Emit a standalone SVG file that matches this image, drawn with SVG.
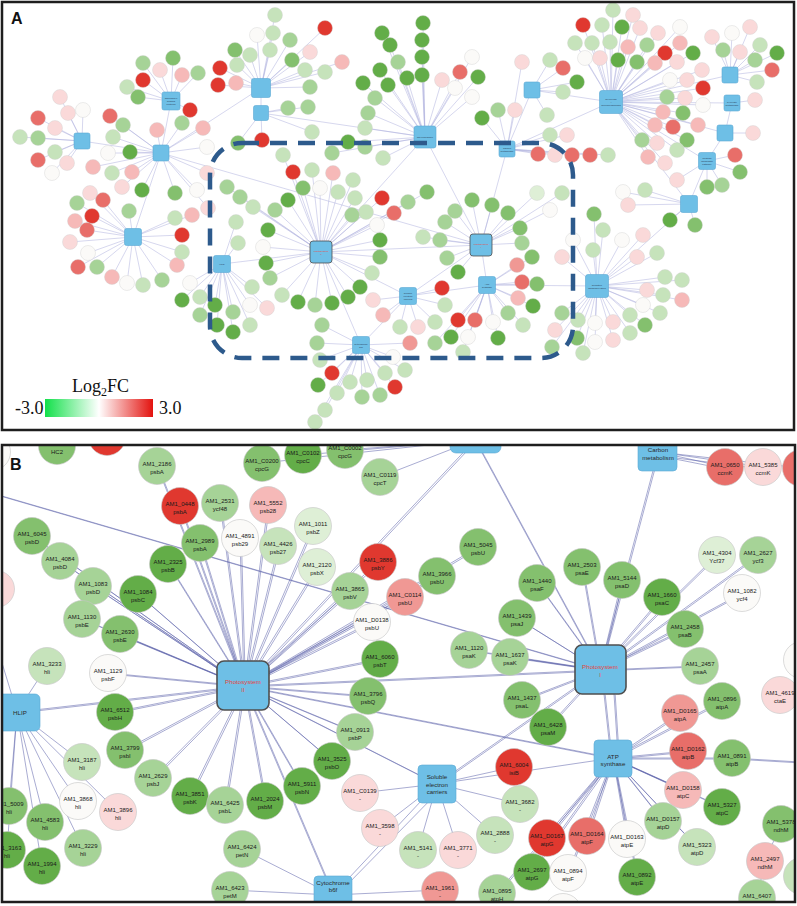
<svg xmlns="http://www.w3.org/2000/svg" xmlns:xlink="http://www.w3.org/1999/xlink" width="797" height="906" viewBox="0 0 797 906">
<style>
.fr{fill:none;stroke:#1e1e1e;stroke-width:2.5}
.ea{fill:none;stroke:#aeb0de;stroke-width:.6;stroke-opacity:.85}
.eb{fill:none;stroke:#5b5fa9;stroke-width:.7;stroke-opacity:.75}
.ac circle{stroke:#cfcfcf;stroke-width:.4}
.bn circle{stroke:#c4c4c4;stroke-width:.6}
.bn text{font-family:'Liberation Sans',Arial,sans-serif;font-size:6px;text-anchor:middle;fill:#1a1a1a}
.hb{fill:#6ebfe6;stroke:#5aa8d4;stroke-width:.6}
.hs{fill:#6ebfe6;stroke:#4f4f4f;stroke-width:1.6}
.ht{font-family:'Liberation Sans',Arial,sans-serif;font-size:6.2px;text-anchor:middle;fill:#2a2a2a}
.ta{font-family:'Liberation Sans',Arial,sans-serif;font-size:2.5px;text-anchor:middle;fill:#2a3a55}
.hr{fill:#e2443c}
.pl{font-family:'Liberation Sans',Arial,sans-serif;font-weight:bold;font-size:16px;fill:#111}
.lg{font-family:'Liberation Serif','Times New Roman',serif;font-size:18px;fill:#111}
.R{fill:#e0382f}.S{fill:#e86e69}.S2{fill:#f09894}.P{fill:#f6b9b8}.L{fill:#fad9d9}.W{fill:#fbfaf8}.Lg2{fill:#deefd6}.Lg{fill:#c6e3bb}.G{fill:#a6d397}.M{fill:#84c06e}.D{fill:#63ad48}
</style>
<defs>
<clipPath id="cA"><rect x="3" y="3" width="790" height="426"/></clipPath>
<clipPath id="cB"><rect x="3" y="446" width="791" height="455"/></clipPath>
<linearGradient id="lgr" x1="0" x2="1" y1="0" y2="0"><stop offset="0" stop-color="#12e04a"/><stop offset="0.5" stop-color="#ffffff"/><stop offset="1" stop-color="#e3120e"/></linearGradient>
</defs>
<rect width="797" height="906" fill="#fff"/>

<!-- ================= PANEL A ================= -->
<g clip-path="url(#cA)">
<g id="edgesA">
<path class="ea" d="M60 97L82 141L68 113M83 110L82 141L38 118M55 128L82 141L20 137M38 138L82 141L55 152M38 160L82 141L67 163M52 173L82 141"/>
<path class="ea" d="M143 63L171 101L160 70M173 58L171 101L182 75M198 73L171 101L143 80M127 87L171 101L138 97M190 110L171 101"/>
<path class="ea" d="M110 116L161 153L123 125M113 137L161 153L157 130M182 123L161 153L203 128M130 152L161 153L108 153M93 167L161 153L112 173M132 172L161 153L122 187M142 190L161 153L175 193M197 190L161 153L207 173M207 147L161 153L208 208"/>
<path class="ea" d="M90 193L133 237L103 200M77 203L133 237L92 216M75 221L133 237L129 211M175 218L133 237L192 215M87 230L133 237L70 242M88 253L133 237L78 267M97 267L133 237L112 277M127 283L133 237L143 285M162 280L133 237L177 265M182 252L133 237L182 235"/>
<path class="ea" d="M235 50L261 88L250 55M257 35L261 88L237 65M220 68L261 88L218 85M236 83L261 88L275 15M273 33L261 88L290 40M270 50L261 88L292 60M310 52L261 88L305 70M325 28L261 88L342 62M325 72L261 88L310 87"/>
<path class="ea" d="M262 140L261 113L238 143M308 107L261 113L288 108M312 132L261 113"/>
<path class="ea" d="M423 23L425 137L422 40M422 57L425 137L422 75M382 33L425 137L390 45M398 62L425 137L407 78M380 70L425 137L388 85M363 83L425 137L375 98M368 113L425 137L365 128M365 147L425 137L348 142M332 153L425 137L383 158M442 80L425 137L460 72M472 57L425 137L455 88M478 77L425 137L472 97"/>
<path class="ea" d="M482 118L507 149L498 110M515 110L507 149L522 62M538 154L507 149L550 135M567 135L507 149L555 155M572 155L507 149L590 155M608 155L507 149"/>
<path class="ea" d="M563 68L532 90L550 60M577 82L532 90L563 92M547 115L532 90"/>
<path class="ea" d="M613 10L611 102L633 15M602 25L611 102L583 25M622 27L611 102L640 28M658 33L611 102L680 27M575 43L611 102L592 43M610 42L611 102L628 47M647 45L611 102L665 53M680 43L611 102L693 53M585 58L611 102L600 58M618 60L611 102L637 62M655 63L611 102L677 62M702 70L611 102L670 80M687 80L611 102L703 88M667 97L611 102L685 98M703 105L611 102L663 112M683 113L611 102L698 125M655 125L611 102L673 127M687 140L611 102L642 140M657 143L611 102L677 150M648 157L611 102L665 163"/>
<path class="ea" d="M712 37L730 75L732 33M750 27L730 75L723 50M740 52L730 75L760 45M777 53L730 75L755 60M772 70L730 75L757 82M755 100L732 103M753 133L725 133"/>
<path class="ea" d="M735 155L707 161L740 172M722 185L707 161L707 187M677 180L707 161M623 192L689 204L645 190M628 205L689 204L670 220M695 225L689 204"/>
<path class="ea" d="M594 214L597 286L603 230M573 240L597 286L593 250M562 257L597 286L622 240M643 235L597 286L657 253M637 257L597 286L665 277M682 280L597 286L647 290M663 295L597 286L682 300M643 305L597 286L660 313M630 315L597 286L645 325M630 333L597 286L613 322M595 323L597 286L613 340M595 342L597 286L577 338M583 353L597 286L562 313M555 330L597 286L552 347M578 320L597 286"/>
<path class="ea" d="M283 155L321 252L293 172M312 170L321 252L333 173M353 180L321 252L303 188M320 188L321 252L338 192M355 198L321 252L288 200M275 210L321 252L382 198M366 212L321 252L408 202M427 192L321 252L394 213M377 225L321 252L380 240M380 257L321 252L372 273M360 287L321 252L348 297M332 303L321 252L315 305M298 302L321 252L282 295M268 230L321 252L266 263M263 247L321 252L270 278M352 215L321 252L227 187M240 197L321 252L253 207"/>
<path class="ea" d="M236 222L222 264L238 243M190 283L222 264L182 300M200 297L222 264L215 305M233 312L222 264L200 315M217 325L222 264L233 332M250 325L222 264L252 287M250 305L222 264L267 308"/>
<path class="ea" d="M445 222L481 245L455 211M472 200L481 245L492 205M508 213L481 245L520 228M522 243L481 245L423 237M440 240L481 245L447 258M458 272L481 245L537 193M562 193L481 245L550 210"/>
<path class="ea" d="M517 265L487 285L532 257M522 282L487 285L537 284M518 298L487 285L533 306M508 313L487 285L523 325M493 322L487 285L475 320M458 320L487 285L468 337M498 338L487 285L451 337M463 352L487 285L435 343"/>
<path class="ea" d="M373 300L408 296L383 315M400 327L408 296L418 327M435 322L408 296L445 305M442 288L408 296"/>
<path class="ea" d="M322 325L361 345L317 343M320 360L361 345L332 373M318 385L361 345L337 393M350 382L361 345L362 397M367 380L361 345L380 395M385 373L361 345L393 357M395 387L361 345L405 370M325 410L361 345L315 422M410 343L361 345"/>
<path class="ea" d="M321 252L425 137M321 252L481 245M321 252L408 296M321 252L361 345M321 252L222 264M481 245L487 285M481 245L408 296M481 245L507 149M481 245L425 137M408 296L361 345M408 296L487 285M161 153L171 101M161 153L82 141M161 153L261 88M161 153L133 237M161 153L481 245M261 88L261 113M261 113L425 137M507 149L532 90M507 149L611 102M611 102L730 75M611 102L732 103M611 102L725 133M611 102L707 161M611 102L689 204M611 102L532 90M732 103L725 133M725 133L707 161M707 161L689 204M597 286L487 285M689 204L597 286"/>
</g>

<g id="genesA" class="ac">
<g id="a-car1-genes"><circle cx="60" cy="97" r="7.5" class="L"/><circle cx="68" cy="113" r="7.5" class="L"/><circle cx="83" cy="110" r="7.5" class="W"/><circle cx="38" cy="118" r="7.5" class="S"/><circle cx="55" cy="128" r="7.5" class="L"/><circle cx="20" cy="137" r="7.5" class="Lg"/><circle cx="38" cy="138" r="7.5" class="G"/><circle cx="55" cy="152" r="7.5" class="Lg"/><circle cx="38" cy="160" r="7.5" class="S"/><circle cx="67" cy="163" r="7.5" class="L"/><circle cx="52" cy="173" r="7.5" class="W"/></g>
<g id="a-cbp-genes"><circle cx="143" cy="63" r="7.5" class="G"/><circle cx="160" cy="70" r="7.5" class="L"/><circle cx="173" cy="58" r="7.5" class="M"/><circle cx="182" cy="75" r="7.5" class="P"/><circle cx="198" cy="73" r="7.5" class="G"/><circle cx="143" cy="80" r="7.5" class="R"/><circle cx="127" cy="87" r="7.5" class="Lg"/><circle cx="138" cy="97" r="7.5" class="M"/><circle cx="190" cy="110" r="7.5" class="R"/></g>
<g id="a-chl-genes"><circle cx="110" cy="116" r="7.5" class="S"/><circle cx="123" cy="125" r="7.5" class="G"/><circle cx="113" cy="137" r="7.5" class="Lg"/><circle cx="157" cy="130" r="7.5" class="P"/><circle cx="182" cy="123" r="7.5" class="G"/><circle cx="203" cy="128" r="7.5" class="P"/><circle cx="130" cy="152" r="7.5" class="D"/><circle cx="108" cy="153" r="7.5" class="W"/><circle cx="93" cy="167" r="7.5" class="P"/><circle cx="112" cy="173" r="7.5" class="Lg"/><circle cx="132" cy="172" r="7.5" class="P"/><circle cx="122" cy="187" r="7.5" class="L"/><circle cx="142" cy="190" r="7.5" class="D"/><circle cx="175" cy="193" r="7.5" class="M"/><circle cx="197" cy="190" r="7.5" class="W"/><circle cx="207" cy="173" r="7.5" class="L"/><circle cx="207" cy="147" r="7.5" class="W"/><circle cx="208" cy="208" r="7.5" class="L"/></g>
<g id="a-car2-genes"><circle cx="90" cy="193" r="7.5" class="L"/><circle cx="103" cy="200" r="7.5" class="S"/><circle cx="77" cy="203" r="7.5" class="G"/><circle cx="92" cy="216" r="7.5" class="R"/><circle cx="75" cy="221" r="7.5" class="P"/><circle cx="129" cy="211" r="7.5" class="G"/><circle cx="175" cy="218" r="7.5" class="Lg"/><circle cx="192" cy="215" r="7.5" class="P"/><circle cx="87" cy="230" r="7.5" class="S"/><circle cx="70" cy="242" r="7.5" class="L"/><circle cx="88" cy="253" r="7.5" class="W"/><circle cx="78" cy="267" r="7.5" class="S"/><circle cx="97" cy="267" r="7.5" class="G"/><circle cx="112" cy="277" r="7.5" class="P"/><circle cx="127" cy="283" r="7.5" class="W"/><circle cx="143" cy="285" r="7.5" class="Lg"/><circle cx="162" cy="280" r="7.5" class="G"/><circle cx="177" cy="265" r="7.5" class="P"/><circle cx="182" cy="252" r="7.5" class="Lg"/><circle cx="182" cy="235" r="7.5" class="R"/></g>
<g id="a-h262-genes"><circle cx="235" cy="50" r="7.5" class="M"/><circle cx="250" cy="55" r="7.5" class="Lg"/><circle cx="257" cy="35" r="7.5" class="W"/><circle cx="237" cy="65" r="7.5" class="Lg"/><circle cx="220" cy="68" r="7.5" class="R"/><circle cx="218" cy="85" r="7.5" class="R"/><circle cx="236" cy="83" r="7.5" class="P"/><circle cx="275" cy="15" r="7.5" class="Lg"/><circle cx="273" cy="33" r="7.5" class="Lg"/><circle cx="290" cy="40" r="7.5" class="G"/><circle cx="270" cy="50" r="7.5" class="Lg"/><circle cx="292" cy="60" r="7.5" class="M"/><circle cx="310" cy="52" r="7.5" class="L"/><circle cx="305" cy="70" r="7.5" class="Lg"/><circle cx="325" cy="28" r="7.5" class="R"/><circle cx="342" cy="62" r="7.5" class="P"/><circle cx="325" cy="72" r="7.5" class="Lg"/><circle cx="310" cy="87" r="7.5" class="G"/></g>
<g id="a-h261-genes"><circle cx="262" cy="140" r="7.5" class="R"/><circle cx="238" cy="143" r="7.5" class="M"/><circle cx="308" cy="107" r="7.5" class="G"/><circle cx="288" cy="108" r="7.5" class="G"/><circle cx="312" cy="132" r="7.5" class="Lg"/></g>
<g id="a-pbs-genes"><circle cx="423" cy="23" r="7.5" class="D"/><circle cx="422" cy="40" r="7.5" class="D"/><circle cx="422" cy="57" r="7.5" class="D"/><circle cx="422" cy="75" r="7.5" class="D"/><circle cx="382" cy="33" r="7.5" class="D"/><circle cx="390" cy="45" r="7.5" class="D"/><circle cx="398" cy="62" r="7.5" class="G"/><circle cx="407" cy="78" r="7.5" class="D"/><circle cx="380" cy="70" r="7.5" class="D"/><circle cx="388" cy="85" r="7.5" class="D"/><circle cx="363" cy="83" r="7.5" class="D"/><circle cx="375" cy="98" r="7.5" class="G"/><circle cx="368" cy="113" r="7.5" class="G"/><circle cx="365" cy="128" r="7.5" class="Lg"/><circle cx="365" cy="147" r="7.5" class="G"/><circle cx="348" cy="142" r="7.5" class="D"/><circle cx="332" cy="153" r="7.5" class="G"/><circle cx="383" cy="158" r="7.5" class="Lg"/><circle cx="442" cy="80" r="7.5" class="L"/><circle cx="460" cy="72" r="7.5" class="S"/><circle cx="472" cy="57" r="7.5" class="W"/><circle cx="455" cy="88" r="7.5" class="W"/><circle cx="478" cy="77" r="7.5" class="D"/><circle cx="472" cy="97" r="7.5" class="W"/></g>
<g id="a-cm-genes"><circle cx="482" cy="118" r="7.5" class="D"/><circle cx="498" cy="110" r="7.5" class="G"/><circle cx="515" cy="110" r="7.5" class="L"/><circle cx="522" cy="62" r="7.5" class="L"/><circle cx="538" cy="154" r="7.5" class="S"/><circle cx="550" cy="135" r="7.5" class="Lg"/><circle cx="567" cy="135" r="7.5" class="L"/><circle cx="555" cy="155" r="7.5" class="L"/><circle cx="572" cy="155" r="7.5" class="S"/><circle cx="590" cy="155" r="7.5" class="S"/><circle cx="608" cy="155" r="7.5" class="Lg"/></g>
<g id="a-cfx-genes"><circle cx="563" cy="68" r="7.5" class="S"/><circle cx="550" cy="60" r="7.5" class="Lg"/><circle cx="577" cy="82" r="7.5" class="D"/><circle cx="563" cy="92" r="7.5" class="Lg"/><circle cx="547" cy="115" r="7.5" class="Lg"/></g>
<g id="a-gly-genes"><circle cx="613" cy="10" r="7.5" class="Lg"/><circle cx="633" cy="15" r="7.5" class="L"/><circle cx="602" cy="25" r="7.5" class="Lg"/><circle cx="583" cy="25" r="7.5" class="R"/><circle cx="622" cy="27" r="7.5" class="D"/><circle cx="640" cy="28" r="7.5" class="L"/><circle cx="658" cy="33" r="7.5" class="L"/><circle cx="680" cy="27" r="7.5" class="W"/><circle cx="575" cy="43" r="7.5" class="Lg"/><circle cx="592" cy="43" r="7.5" class="Lg"/><circle cx="610" cy="42" r="7.5" class="Lg"/><circle cx="628" cy="47" r="7.5" class="P"/><circle cx="647" cy="45" r="7.5" class="G"/><circle cx="665" cy="53" r="7.5" class="R"/><circle cx="680" cy="43" r="7.5" class="P"/><circle cx="693" cy="53" r="7.5" class="D"/><circle cx="585" cy="58" r="7.5" class="W"/><circle cx="600" cy="58" r="7.5" class="L"/><circle cx="618" cy="60" r="7.5" class="D"/><circle cx="637" cy="62" r="7.5" class="M"/><circle cx="655" cy="63" r="7.5" class="P"/><circle cx="677" cy="62" r="7.5" class="L"/><circle cx="702" cy="70" r="7.5" class="L"/><circle cx="670" cy="80" r="7.5" class="W"/><circle cx="687" cy="80" r="7.5" class="L"/><circle cx="703" cy="88" r="7.5" class="R"/><circle cx="667" cy="97" r="7.5" class="G"/><circle cx="685" cy="98" r="7.5" class="L"/><circle cx="703" cy="105" r="7.5" class="W"/><circle cx="663" cy="112" r="7.5" class="P"/><circle cx="683" cy="113" r="7.5" class="M"/><circle cx="698" cy="125" r="7.5" class="P"/><circle cx="655" cy="125" r="7.5" class="P"/><circle cx="673" cy="127" r="7.5" class="S"/><circle cx="687" cy="140" r="7.5" class="M"/><circle cx="642" cy="140" r="7.5" class="G"/><circle cx="657" cy="143" r="7.5" class="L"/><circle cx="677" cy="150" r="7.5" class="Lg"/><circle cx="648" cy="157" r="7.5" class="P"/><circle cx="665" cy="163" r="7.5" class="L"/></g>
<g id="a-glx-genes"><circle cx="712" cy="37" r="7.5" class="L"/><circle cx="732" cy="33" r="7.5" class="W"/><circle cx="750" cy="27" r="7.5" class="L"/><circle cx="723" cy="50" r="7.5" class="G"/><circle cx="740" cy="52" r="7.5" class="L"/><circle cx="760" cy="45" r="7.5" class="Lg"/><circle cx="777" cy="53" r="7.5" class="D"/><circle cx="755" cy="60" r="7.5" class="G"/><circle cx="772" cy="70" r="7.5" class="S"/><circle cx="757" cy="82" r="7.5" class="Lg"/><circle cx="755" cy="100" r="7.5" class="L"/><circle cx="753" cy="133" r="7.5" class="L"/></g>
<g id="a-ppp-genes"><circle cx="735" cy="155" r="7.5" class="S"/><circle cx="740" cy="172" r="7.5" class="M"/><circle cx="722" cy="185" r="7.5" class="G"/><circle cx="707" cy="187" r="7.5" class="M"/><circle cx="677" cy="180" r="7.5" class="L"/><circle cx="623" cy="192" r="7.5" class="W"/><circle cx="645" cy="190" r="7.5" class="Lg"/><circle cx="628" cy="205" r="7.5" class="L"/><circle cx="670" cy="220" r="7.5" class="D"/><circle cx="695" cy="225" r="7.5" class="M"/></g>
<g id="a-oxp-genes"><circle cx="594" cy="214" r="7.5" class="M"/><circle cx="603" cy="230" r="7.5" class="Lg"/><circle cx="573" cy="240" r="7.5" class="W"/><circle cx="593" cy="250" r="7.5" class="Lg"/><circle cx="562" cy="257" r="7.5" class="L"/><circle cx="622" cy="240" r="7.5" class="W"/><circle cx="643" cy="235" r="7.5" class="L"/><circle cx="657" cy="253" r="7.5" class="Lg"/><circle cx="637" cy="257" r="7.5" class="L"/><circle cx="665" cy="277" r="7.5" class="Lg"/><circle cx="682" cy="280" r="7.5" class="Lg"/><circle cx="647" cy="290" r="7.5" class="L"/><circle cx="663" cy="295" r="7.5" class="Lg"/><circle cx="682" cy="300" r="7.5" class="P"/><circle cx="643" cy="305" r="7.5" class="W"/><circle cx="660" cy="313" r="7.5" class="Lg"/><circle cx="630" cy="315" r="7.5" class="Lg"/><circle cx="645" cy="325" r="7.5" class="M"/><circle cx="630" cy="333" r="7.5" class="Lg"/><circle cx="613" cy="322" r="7.5" class="L"/><circle cx="595" cy="323" r="7.5" class="W"/><circle cx="613" cy="340" r="7.5" class="L"/><circle cx="595" cy="342" r="7.5" class="W"/><circle cx="577" cy="338" r="7.5" class="M"/><circle cx="583" cy="353" r="7.5" class="Lg"/><circle cx="562" cy="313" r="7.5" class="G"/><circle cx="555" cy="330" r="7.5" class="L"/><circle cx="552" cy="347" r="7.5" class="G"/><circle cx="578" cy="320" r="7.5" class="Lg"/></g>
<g id="a-ps2-genes"><circle cx="283" cy="155" r="7.5" class="Lg"/><circle cx="293" cy="172" r="7.5" class="R"/><circle cx="312" cy="170" r="7.5" class="Lg"/><circle cx="333" cy="173" r="7.5" class="P"/><circle cx="353" cy="180" r="7.5" class="Lg"/><circle cx="303" cy="188" r="7.5" class="M"/><circle cx="320" cy="188" r="7.5" class="W"/><circle cx="338" cy="192" r="7.5" class="Lg"/><circle cx="355" cy="198" r="7.5" class="Lg"/><circle cx="288" cy="200" r="7.5" class="D"/><circle cx="275" cy="210" r="7.5" class="G"/><circle cx="382" cy="198" r="7.5" class="R"/><circle cx="366" cy="212" r="7.5" class="Lg"/><circle cx="408" cy="202" r="7.5" class="G"/><circle cx="427" cy="192" r="7.5" class="M"/><circle cx="394" cy="213" r="7.5" class="S"/><circle cx="377" cy="225" r="7.5" class="W"/><circle cx="380" cy="240" r="7.5" class="D"/><circle cx="380" cy="257" r="7.5" class="M"/><circle cx="372" cy="273" r="7.5" class="Lg"/><circle cx="360" cy="287" r="7.5" class="D"/><circle cx="348" cy="297" r="7.5" class="D"/><circle cx="332" cy="303" r="7.5" class="D"/><circle cx="315" cy="305" r="7.5" class="G"/><circle cx="298" cy="302" r="7.5" class="D"/><circle cx="282" cy="295" r="7.5" class="Lg"/><circle cx="268" cy="230" r="7.5" class="D"/><circle cx="266" cy="263" r="7.5" class="D"/><circle cx="263" cy="247" r="7.5" class="W"/><circle cx="270" cy="278" r="7.5" class="G"/><circle cx="352" cy="215" r="7.5" class="G"/><circle cx="227" cy="187" r="7.5" class="G"/><circle cx="240" cy="197" r="7.5" class="G"/><circle cx="253" cy="207" r="7.5" class="Lg"/></g>
<g id="a-hlip-genes"><circle cx="236" cy="222" r="7.5" class="Lg"/><circle cx="238" cy="243" r="7.5" class="Lg"/><circle cx="190" cy="283" r="7.5" class="W"/><circle cx="182" cy="300" r="7.5" class="D"/><circle cx="200" cy="297" r="7.5" class="Lg"/><circle cx="215" cy="305" r="7.5" class="D"/><circle cx="233" cy="312" r="7.5" class="G"/><circle cx="200" cy="315" r="7.5" class="G"/><circle cx="217" cy="325" r="7.5" class="D"/><circle cx="233" cy="332" r="7.5" class="D"/><circle cx="250" cy="325" r="7.5" class="Lg"/><circle cx="252" cy="287" r="7.5" class="Lg"/><circle cx="250" cy="305" r="7.5" class="W"/><circle cx="267" cy="308" r="7.5" class="L"/></g>
<g id="a-ps1-genes"><circle cx="445" cy="222" r="7.5" class="G"/><circle cx="455" cy="211" r="7.5" class="G"/><circle cx="472" cy="200" r="7.5" class="M"/><circle cx="492" cy="205" r="7.5" class="M"/><circle cx="508" cy="213" r="7.5" class="M"/><circle cx="520" cy="228" r="7.5" class="M"/><circle cx="522" cy="243" r="7.5" class="G"/><circle cx="423" cy="237" r="7.5" class="Lg"/><circle cx="440" cy="240" r="7.5" class="G"/><circle cx="447" cy="258" r="7.5" class="G"/><circle cx="458" cy="272" r="7.5" class="D"/><circle cx="537" cy="193" r="7.5" class="Lg2"/><circle cx="562" cy="193" r="7.5" class="Lg"/><circle cx="550" cy="210" r="7.5" class="W"/></g>
<g id="a-atp-genes"><circle cx="517" cy="265" r="7.5" class="S2"/><circle cx="532" cy="257" r="7.5" class="M"/><circle cx="522" cy="282" r="7.5" class="S"/><circle cx="537" cy="284" r="7.5" class="M"/><circle cx="518" cy="298" r="7.5" class="P"/><circle cx="533" cy="306" r="7.5" class="D"/><circle cx="508" cy="313" r="7.5" class="G"/><circle cx="523" cy="325" r="7.5" class="Lg"/><circle cx="493" cy="322" r="7.5" class="W"/><circle cx="475" cy="320" r="7.5" class="S"/><circle cx="458" cy="320" r="7.5" class="R"/><circle cx="468" cy="337" r="7.5" class="W"/><circle cx="498" cy="338" r="7.5" class="D"/><circle cx="451" cy="337" r="7.5" class="D"/><circle cx="463" cy="352" r="7.5" class="Lg"/><circle cx="435" cy="343" r="7.5" class="G"/></g>
<g id="a-sec-genes"><circle cx="373" cy="300" r="7.5" class="L"/><circle cx="383" cy="315" r="7.5" class="P"/><circle cx="400" cy="327" r="7.5" class="Lg"/><circle cx="418" cy="327" r="7.5" class="L"/><circle cx="435" cy="322" r="7.5" class="Lg"/><circle cx="445" cy="305" r="7.5" class="Lg"/><circle cx="442" cy="288" r="7.5" class="R"/></g>
<g id="a-cyt-genes"><circle cx="322" cy="325" r="7.5" class="G"/><circle cx="317" cy="343" r="7.5" class="G"/><circle cx="320" cy="360" r="7.5" class="Lg"/><circle cx="332" cy="373" r="7.5" class="R"/><circle cx="318" cy="385" r="7.5" class="D"/><circle cx="337" cy="393" r="7.5" class="Lg"/><circle cx="350" cy="382" r="7.5" class="Lg"/><circle cx="362" cy="397" r="7.5" class="G"/><circle cx="367" cy="380" r="7.5" class="Lg"/><circle cx="380" cy="395" r="7.5" class="G"/><circle cx="385" cy="373" r="7.5" class="Lg"/><circle cx="393" cy="357" r="7.5" class="W"/><circle cx="395" cy="387" r="7.5" class="R"/><circle cx="405" cy="370" r="7.5" class="Lg"/><circle cx="325" cy="410" r="7.5" class="Lg"/><circle cx="315" cy="422" r="7.5" class="Lg"/><circle cx="410" cy="343" r="7.5" class="S2"/></g>
</g>

<g id="hubsA">
<g id="hA-car1"><rect x="74" y="133" width="16" height="16" rx="2" class="hb"/></g>
<g id="hA-cbp"><rect x="162" y="92" width="18" height="18" rx="2" class="hb"/><text class="ta" x="171" y="99">Chlorophyll<tspan x="171" dy="3">binding</tspan><tspan x="171" dy="3">proteins</tspan></text></g>
<g id="hA-chl"><rect x="153" y="145" width="16" height="16" rx="2" class="hb"/></g>
<g id="hA-car2"><rect x="124.5" y="228.5" width="17" height="17" rx="2" class="hb"/></g>
<g id="hA-h262"><rect x="251.5" y="78.5" width="19" height="19" rx="2" class="hb"/></g>
<g id="hA-h261"><rect x="253.5" y="105.5" width="15" height="15" rx="2" class="hb"/></g>
<g id="hA-pbs"><rect x="414" y="126" width="22" height="22" rx="2.5" class="hb"/><text class="ta" x="425" y="138">Phycobilisome</text></g>
<g id="hA-cm"><rect x="499" y="141" width="16" height="16" rx="2" class="hb"/><text class="ta" x="507" y="148.5">Carbon<tspan x="507" dy="3">metabolism</tspan></text></g>
<g id="hA-cfx"><rect x="524" y="82" width="16" height="16" rx="2" class="hb"/></g>
<g id="hA-gly"><rect x="599.5" y="90.5" width="23" height="23" rx="2.5" class="hb"/><text class="ta" x="611" y="100">Glycolysis<tspan x="611" dy="3">/</tspan><tspan x="611" dy="3">Gluconeogenesis</tspan></text></g>
<g id="hA-glx"><rect x="722" y="67" width="16" height="16" rx="2" class="hb"/></g>
<g id="hA-pyr"><rect x="724" y="95" width="16" height="16" rx="2" class="hb"/><text class="ta" x="732" y="102.5">Pyruvate<tspan x="732" dy="3">metabolism</tspan></text></g>
<g id="hA-tca"><rect x="717" y="125" width="16" height="16" rx="2" class="hb"/></g>
<g id="hA-ppp"><rect x="698.5" y="152.5" width="17" height="17" rx="2" class="hb"/><text class="ta" x="707" y="159">Pentose<tspan x="707" dy="3">phosphate</tspan><tspan x="707" dy="3">pathway</tspan></text></g>
<g id="hA-frc"><rect x="680.5" y="195.5" width="17" height="17" rx="2" class="hb"/></g>
<g id="hA-ps2"><rect x="310" y="241" width="22" height="22" rx="3" class="hs" style="stroke-width:.8"/><text class="ta hr" x="321" y="251.5">Photosystem<tspan x="321" dy="3">II</tspan></text></g>
<g id="hA-ps1"><rect x="470" y="234" width="22" height="22" rx="3" class="hs" style="stroke-width:.8"/><text class="ta hr" x="481" y="244.5">Photosystem<tspan x="481" dy="3">I</tspan></text></g>
<g id="hA-atp"><rect x="478.5" y="276.5" width="17" height="17" rx="2" class="hb"/><text class="ta" x="487" y="284.5">ATP<tspan x="487" dy="3">synthase</tspan></text></g>
<g id="hA-sec"><rect x="399.5" y="287.5" width="17" height="17" rx="2" class="hb"/><text class="ta" x="408" y="294">Soluble<tspan x="408" dy="3">electron</tspan><tspan x="408" dy="3">carriers</tspan></text></g>
<g id="hA-cyt"><rect x="352.5" y="336.5" width="17" height="17" rx="2" class="hb"/><text class="ta" x="361" y="344.5">Cytochrome<tspan x="361" dy="3">b6f</tspan></text></g>
<g id="hA-hlip"><rect x="213.5" y="255.5" width="17" height="17" rx="2" class="hb"/><text class="ta" x="222" y="265">HLIP</text></g>
<g id="hA-oxp"><rect x="585.5" y="274.5" width="23" height="23" rx="2.5" class="hb"/><text class="ta" x="597" y="285.5">Oxidative<tspan x="597" dy="3">phosphorylation</tspan></text></g>
</g>

<rect id="focus" x="210" y="143" width="363" height="215" rx="32" fill="none" stroke="#2d5a8c" stroke-width="4.5" stroke-dasharray="17 11"/>

<g id="legend">
<text class="lg" x="72" y="392">Log<tspan font-size="12" dy="4">2</tspan><tspan dy="-4">FC</tspan></text>
<rect x="45" y="399" width="108" height="18" fill="url(#lgr)"/>
<text class="lg" x="15" y="414">-3.0</text>
<text class="lg" x="159" y="414">3.0</text>
</g>
<text class="pl" x="11" y="24">A</text>
</g>
<rect class="fr" x="2" y="2" width="792" height="428"/>

<!-- ================= PANEL B ================= -->
<g clip-path="url(#cB)">
<g id="edgesB">
<path id="eps2" class="eb" d="M157 466L244 686L180 506M220 503L244 686L268 505M240 538L244 686L200 543M32 536L244 686L60 561M168 564L244 686L93 586M138 594L244 686L82 619M120 634L244 686L108 673M313 526L244 686L278 548M317 567L244 686L378 562M478 547L244 686L437 576M350 591L244 686L405 597M372 622L244 686L380 659M115 712L244 686L125 750M153 778L244 686L190 796M225 805L244 686L265 801M368 696L244 686L355 732M332 761L244 686L302 786M475 440L244 686L600 670M437 784L244 686L333 895M613 758L244 686L17 712"/>
<use xlink:href="#eps2" href="#eps2" transform="translate(1.4,1)"/>
<path id="eps1" class="eb" d="M469 650L600 670L510 657M517 618L600 670L537 583M582 567L600 670L622 580M662 597L600 670L717 555M758 555L600 670L742 593M685 629L600 670L700 666M522 700L600 670L548 727M475 440L600 670L658 452M437 784L600 670L-5 494M604 694L609 740M614 694L617 740"/>
<use xlink:href="#eps1" href="#eps1" transform="translate(1.2,0.8)"/>
<path class="eb" d="M47 666L17 712L82 762M78 801L17 712L118 812M9 806L17 712L45 822M83 848L17 712L7 850M42 866L17 712M17 712L-5 640"/>
<path class="eb" d="M360 793L437 784L380 828M418 850L437 784L458 850M495 835L437 784L520 804M514 767L437 784L613 758M333 895L437 784M342 890L440 790"/>
<path id="eatp" class="eb" d="M497 893L613 758L532 871M547 838L613 758L587 836M627 839L613 758L568 873M637 877L613 758L663 821M697 847L613 758L683 790M722 807L613 758L688 751M732 758L613 758L680 713M722 701L613 758M732 758L800 762"/>
<use xlink:href="#eatp" href="#eatp" transform="translate(1.2,1)"/>
<path class="eb" d="M242 849L333 895L230 890M440 890L333 895M725 467L658 452L763 467M801 468L658 452M725 469L660 456L763 469M262 463L475 440L303 455M345 450L475 440L380 477M781 824L765 861L757 898"/>
</g>

<g id="hubsB">
<g id="hub-ps2"><rect x="217" y="661" width="52" height="49" rx="7" class="hs"/><text class="ht hr" x="243" y="684">Photosystem<tspan x="243" dy="8">II</tspan></text></g>
<g id="hub-ps1"><rect x="575" y="645" width="51" height="49" rx="7" class="hs"/><text class="ht hr" x="600" y="669">Photosystem<tspan x="600" dy="8">I</tspan></text></g>
<g id="hub-hlip"><rect x="-6" y="694" width="46" height="37" rx="5" class="hb"/><text class="ht" x="20" y="715">HLIP</text></g>
<g id="hub-cm"><rect x="638" y="432" width="39" height="39" rx="4" class="hb"/><text class="ht" x="658" y="452">Carbon<tspan x="658" dy="7.5">metabolism</tspan></text></g>
<g id="hub-pbs"><rect x="450" y="405" width="51" height="48" rx="6" class="hb"/></g>
<g id="hub-sec"><rect x="418" y="765" width="38" height="38" rx="4" class="hb"/><text class="ht" x="437" y="779">Soluble<tspan x="437" dy="7.5">electron</tspan><tspan x="437" dy="7.5">carriers</tspan></text></g>
<g id="hub-atp"><rect x="594" y="740" width="38" height="37" rx="4" class="hb"/><text class="ht" x="613" y="758.5">ATP<tspan x="613" dy="7.5">synthase</tspan></text></g>
<g id="hub-cyt"><rect x="314" y="876" width="38" height="38" rx="4" class="hb"/><text class="ht" x="333" y="885">Cytochrome<tspan x="333" dy="7">b6f</tspan></text></g>
</g>

<g id="genesB" class="bn">
<g id="b2186"><circle cx="157" cy="466" r="18.5" class="G"/><text x="157" y="466">AM1_2186<tspan x="157" dy="8">psbA</tspan></text></g>
<g id="b0448"><circle cx="180" cy="506" r="18.5" class="R"/><text x="180" y="506">AM1_0448<tspan x="180" dy="8">psbA</tspan></text></g>
<g id="b2531"><circle cx="220" cy="503" r="18.5" class="G"/><text x="220" y="503">AM1_2531<tspan x="220" dy="8">ycf48</tspan></text></g>
<g id="b5552"><circle cx="268" cy="505" r="18.5" class="P"/><text x="268" y="505">AM1_5552<tspan x="268" dy="8">psb28</tspan></text></g>
<g id="b4891"><circle cx="240" cy="538" r="18.5" class="W"/><text x="240" y="538">AM1_4891<tspan x="240" dy="8">psb29</tspan></text></g>
<g id="b2989"><circle cx="200" cy="543" r="18.5" class="M"/><text x="200" y="543">AM1_2989<tspan x="200" dy="8">psbA</tspan></text></g>
<g id="b6045"><circle cx="32" cy="536" r="18.5" class="M"/><text x="32" y="536">AM1_6045<tspan x="32" dy="8">psbD</tspan></text></g>
<g id="b4084"><circle cx="60" cy="561" r="18.5" class="G"/><text x="60" y="561">AM1_4084<tspan x="60" dy="8">psbD</tspan></text></g>
<g id="b2325"><circle cx="168" cy="564" r="18.5" class="D"/><text x="168" y="564">AM1_2325<tspan x="168" dy="8">psbB</tspan></text></g>
<g id="b1083"><circle cx="93" cy="586" r="18.5" class="G"/><text x="93" y="586">AM1_1083<tspan x="93" dy="8">psbD</tspan></text></g>
<g id="b1084"><circle cx="138" cy="594" r="18.5" class="D"/><text x="138" y="594">AM1_1084<tspan x="138" dy="8">psbC</tspan></text></g>
<g id="b1130"><circle cx="82" cy="619" r="18.5" class="G"/><text x="82" y="619">AM1_1130<tspan x="82" dy="8">psbE</tspan></text></g>
<g id="b2630"><circle cx="120" cy="634" r="18.5" class="M"/><text x="120" y="634">AM1_2630<tspan x="120" dy="8">psbE</tspan></text></g>
<g id="b3233"><circle cx="47" cy="666" r="18.5" class="Lg"/><text x="47" y="666">AM1_3233<tspan x="47" dy="8">hli</tspan></text></g>
<g id="b1129"><circle cx="108" cy="673" r="18.5" class="W"/><text x="108" y="673">AM1_1129<tspan x="108" dy="8">psbF</tspan></text></g>
<g id="bhc2"><circle cx="57" cy="446" r="18.5" class="M"/><text x="57" y="454">HC2</text></g>
<g id="btopred"><circle cx="107" cy="437" r="18.5" class="R"/></g>
<g id="bleftpink"><circle cx="-4" cy="589" r="18.5" class="L"/></g>
<g id="btopleft"><circle cx="-8" cy="452" r="18.5" class="W"/></g>
<g id="bC0200"><circle cx="262" cy="463" r="18.5" class="M"/><text x="262" y="463">AM1_C0200<tspan x="262" dy="8">cpcG</tspan></text></g>
<g id="bC0102"><circle cx="303" cy="455" r="18.5" class="D"/><text x="303" y="455">AM1_C0102<tspan x="303" dy="8">cpcC</tspan></text></g>
<g id="bC0002"><circle cx="345" cy="450" r="18.5" class="M"/><text x="345" y="450">AM1_C0002<tspan x="345" dy="8">cpcG</tspan></text></g>
<g id="bC0119"><circle cx="380" cy="477" r="18.5" class="G"/><text x="380" y="477">AM1_C0119<tspan x="380" dy="8">cpcT</tspan></text></g>
<g id="b1011"><circle cx="313" cy="526" r="18.5" class="Lg2"/><text x="313" y="526">AM1_1011<tspan x="313" dy="8">psbZ</tspan></text></g>
<g id="b4426"><circle cx="278" cy="546" r="18.5" class="Lg"/><text x="278" y="546">AM1_4426<tspan x="278" dy="8">psb27</tspan></text></g>
<g id="b2120"><circle cx="317" cy="567" r="18.5" class="Lg2"/><text x="317" y="567">AM1_2120<tspan x="317" dy="8">psbX</tspan></text></g>
<g id="b3886"><circle cx="378" cy="562" r="18.5" class="R"/><text x="378" y="562">AM1_3886<tspan x="378" dy="8">psbY</tspan></text></g>
<g id="b5045"><circle cx="478" cy="547" r="18.5" class="M"/><text x="478" y="547">AM1_5045<tspan x="478" dy="8">psbU</tspan></text></g>
<g id="b3966"><circle cx="437" cy="576" r="18.5" class="M"/><text x="437" y="576">AM1_3966<tspan x="437" dy="8">psbU</tspan></text></g>
<g id="b3865"><circle cx="350" cy="591" r="18.5" class="G"/><text x="350" y="591">AM1_3865<tspan x="350" dy="8">psbV</tspan></text></g>
<g id="bC0114"><circle cx="405" cy="597" r="18.5" class="S2"/><text x="405" y="597">AM1_C0114<tspan x="405" dy="8">psbU</tspan></text></g>
<g id="bD0138"><circle cx="372" cy="622" r="18.5" class="W"/><text x="372" y="622">AM1_D0138<tspan x="372" dy="8">psbU</tspan></text></g>
<g id="b6060"><circle cx="380" cy="659" r="18.5" class="D"/><text x="380" y="659">AM1_6060<tspan x="380" dy="8">psbT</tspan></text></g>
<g id="b1120"><circle cx="469" cy="650" r="18.5" class="G"/><text x="469" y="650">AM1_1120<tspan x="469" dy="8">psaK</tspan></text></g>
<g id="b1637"><circle cx="510" cy="657" r="18.5" class="G"/><text x="510" y="657">AM1_1637<tspan x="510" dy="8">psaK</tspan></text></g>
<g id="b1439"><circle cx="517" cy="618" r="18.5" class="M"/><text x="517" y="618">AM1_1439<tspan x="517" dy="8">psaJ</tspan></text></g>
<g id="b1440"><circle cx="537" cy="583" r="18.5" class="M"/><text x="537" y="583">AM1_1440<tspan x="537" dy="8">psaF</tspan></text></g>
<g id="b0650"><circle cx="725" cy="467" r="18.5" class="S"/><text x="725" y="467">AM1_0650<tspan x="725" dy="8">ccmK</tspan></text></g>
<g id="b5385"><circle cx="763" cy="467" r="18.5" class="L"/><text x="763" y="467">AM1_5385<tspan x="763" dy="8">ccmK</tspan></text></g>
<g id="brt"><circle cx="801" cy="468" r="18.5" class="S"/></g>
<g id="b2503"><circle cx="582" cy="567" r="18.5" class="M"/><text x="582" y="567">AM1_2503<tspan x="582" dy="8">psaE</tspan></text></g>
<g id="b5144"><circle cx="622" cy="580" r="18.5" class="M"/><text x="622" y="580">AM1_5144<tspan x="622" dy="8">psaD</tspan></text></g>
<g id="b1660"><circle cx="662" cy="597" r="18.5" class="D"/><text x="662" y="597">AM1_1660<tspan x="662" dy="8">psaC</tspan></text></g>
<g id="b4304"><circle cx="717" cy="555" r="18.5" class="Lg2"/><text x="717" y="555">AM1_4304<tspan x="717" dy="8">Ycf37</tspan></text></g>
<g id="b2627"><circle cx="758" cy="555" r="18.5" class="G"/><text x="758" y="555">AM1_2627<tspan x="758" dy="8">ycf3</tspan></text></g>
<g id="b1082"><circle cx="742" cy="593" r="18.5" class="W"/><text x="742" y="593">AM1_1082<tspan x="742" dy="8">ycf4</tspan></text></g>
<g id="b2458"><circle cx="685" cy="629" r="18.5" class="M"/><text x="685" y="629">AM1_2458<tspan x="685" dy="8">psaB</tspan></text></g>
<g id="b2457"><circle cx="700" cy="666" r="18.5" class="G"/><text x="700" y="666">AM1_2457<tspan x="700" dy="8">psaA</tspan></text></g>
<g id="brm"><circle cx="802" cy="660" r="18.5" class="W"/></g>
<g id="b6512"><circle cx="115" cy="712" r="18.5" class="D"/><text x="115" y="712">AM1_6512<tspan x="115" dy="8">psbH</tspan></text></g>
<g id="b3799"><circle cx="125" cy="750" r="18.5" class="M"/><text x="125" y="750">AM1_3799<tspan x="125" dy="8">psbI</tspan></text></g>
<g id="b3187"><circle cx="82" cy="762" r="18.5" class="Lg"/><text x="82" y="762">AM1_3187<tspan x="82" dy="8">hli</tspan></text></g>
<g id="b2629"><circle cx="153" cy="778" r="18.5" class="G"/><text x="153" y="778">AM1_2629<tspan x="153" dy="8">psbJ</tspan></text></g>
<g id="b3868"><circle cx="78" cy="801" r="18.5" class="W"/><text x="78" y="801">AM1_3868<tspan x="78" dy="8">hli</tspan></text></g>
<g id="b3896"><circle cx="118" cy="812" r="18.5" class="L"/><text x="118" y="812">AM1_3896<tspan x="118" dy="8">hli</tspan></text></g>
<g id="b3851"><circle cx="190" cy="796" r="18.5" class="D"/><text x="190" y="796">AM1_3851<tspan x="190" dy="8">psbK</tspan></text></g>
<g id="b6425"><circle cx="225" cy="805" r="18.5" class="G"/><text x="225" y="805">AM1_6425<tspan x="225" dy="8">psbL</tspan></text></g>
<g id="b2024"><circle cx="265" cy="801" r="18.5" class="D"/><text x="265" y="801">AM1_2024<tspan x="265" dy="8">psbM</tspan></text></g>
<g id="b5009"><circle cx="9" cy="806" r="18.5" class="M"/><text x="9" y="806">AM1_5009<tspan x="9" dy="8">hli</tspan></text></g>
<g id="b4583"><circle cx="45" cy="822" r="18.5" class="M"/><text x="45" y="822">AM1_4583<tspan x="45" dy="8">hli</tspan></text></g>
<g id="b3229"><circle cx="83" cy="848" r="18.5" class="G"/><text x="83" y="848">AM1_3229<tspan x="83" dy="8">hli</tspan></text></g>
<g id="b3163"><circle cx="7" cy="850" r="18.5" class="D"/><text x="7" y="850">AM1_3163<tspan x="7" dy="8">hli</tspan></text></g>
<g id="b1994"><circle cx="42" cy="866" r="18.5" class="D"/><text x="42" y="866">AM1_1994<tspan x="42" dy="8">hli</tspan></text></g>
<g id="b6424"><circle cx="242" cy="849" r="18.5" class="G"/><text x="242" y="849">AM1_6424<tspan x="242" dy="8">petN</tspan></text></g>
<g id="b6423"><circle cx="230" cy="890" r="18.5" class="G"/><text x="230" y="890">AM1_6423<tspan x="230" dy="8">petM</tspan></text></g>
<g id="b3796"><circle cx="368" cy="696" r="18.5" class="M"/><text x="368" y="696">AM1_3796<tspan x="368" dy="8">psbQ</tspan></text></g>
<g id="b0913"><circle cx="355" cy="732" r="18.5" class="G"/><text x="355" y="732">AM1_0913<tspan x="355" dy="8">psbP</tspan></text></g>
<g id="b3525"><circle cx="332" cy="761" r="18.5" class="D"/><text x="332" y="761">AM1_3525<tspan x="332" dy="8">psbO</tspan></text></g>
<g id="b5911"><circle cx="302" cy="786" r="18.5" class="D"/><text x="302" y="786">AM1_5911<tspan x="302" dy="8">psbN</tspan></text></g>
<g id="bC0139"><circle cx="360" cy="793" r="18.5" class="L"/><text x="360" y="793">AM1_C0139<tspan x="360" dy="8">-</tspan></text></g>
<g id="b3598"><circle cx="380" cy="828" r="18.5" class="L"/><text x="380" y="828">AM1_3598<tspan x="380" dy="8">-</tspan></text></g>
<g id="b5141"><circle cx="418" cy="850" r="18.5" class="Lg"/><text x="418" y="850">AM1_5141<tspan x="418" dy="8">-</tspan></text></g>
<g id="b3771"><circle cx="458" cy="850" r="18.5" class="L"/><text x="458" y="850">AM1_3771<tspan x="458" dy="8">-</tspan></text></g>
<g id="b2888"><circle cx="495" cy="835" r="18.5" class="Lg"/><text x="495" y="835">AM1_2888<tspan x="495" dy="8">-</tspan></text></g>
<g id="b3682"><circle cx="520" cy="804" r="18.5" class="Lg"/><text x="520" y="804">AM1_3682<tspan x="520" dy="8">-</tspan></text></g>
<g id="b6004"><circle cx="514" cy="767" r="18.5" class="R"/><text x="514" y="767">AM1_6004<tspan x="514" dy="8">isiB</tspan></text></g>
<g id="b1437"><circle cx="522" cy="700" r="18.5" class="M"/><text x="522" y="700">AM1_1437<tspan x="522" dy="8">psaL</tspan></text></g>
<g id="b6428"><circle cx="548" cy="727" r="18.5" class="D"/><text x="548" y="727">AM1_6428<tspan x="548" dy="8">psaM</tspan></text></g>
<g id="b1961"><circle cx="440" cy="890" r="18.5" class="S2"/><text x="440" y="890">AM1_1961<tspan x="440" dy="8">-</tspan></text></g>
<g id="b0895"><circle cx="497" cy="893" r="18.5" class="G"/><text x="497" y="893">AM1_0895<tspan x="497" dy="8">atpH</tspan></text></g>
<g id="b2697"><circle cx="532" cy="872" r="18.5" class="D"/><text x="532" y="872">AM1_2697<tspan x="532" dy="8">atpG</tspan></text></g>
<g id="bD0167"><circle cx="547" cy="838" r="18.5" class="R"/><text x="547" y="838">AM1_D0167<tspan x="547" dy="8">atpG</tspan></text></g>
<g id="bD0164"><circle cx="587" cy="836" r="18.5" class="S"/><text x="587" y="836">AM1_D0164<tspan x="587" dy="8">atpF</tspan></text></g>
<g id="bD0163"><circle cx="627" cy="839" r="18.5" class="W"/><text x="627" y="839">AM1_D0163<tspan x="627" dy="8">atpE</tspan></text></g>
<g id="b0894"><circle cx="568" cy="873" r="18.5" class="W"/><text x="568" y="873">AM1_0894<tspan x="568" dy="8">atpF</tspan></text></g>
<g id="b0892"><circle cx="637" cy="877" r="18.5" class="D"/><text x="637" y="877">AM1_0892<tspan x="637" dy="8">atpE</tspan></text></g>
<g id="bD0157"><circle cx="663" cy="821" r="18.5" class="G"/><text x="663" y="821">AM1_D0157<tspan x="663" dy="8">atpD</tspan></text></g>
<g id="b5323"><circle cx="697" cy="847" r="18.5" class="Lg"/><text x="697" y="847">AM1_5323<tspan x="697" dy="8">atpD</tspan></text></g>
<g id="bD0158"><circle cx="683" cy="790" r="18.5" class="P"/><text x="683" y="790">AM1_D0158<tspan x="683" dy="8">atpC</tspan></text></g>
<g id="b5327"><circle cx="722" cy="807" r="18.5" class="D"/><text x="722" y="807">AM1_5327<tspan x="722" dy="8">atpC</tspan></text></g>
<g id="bD0162"><circle cx="688" cy="751" r="18.5" class="S"/><text x="688" y="751">AM1_D0162<tspan x="688" dy="8">atpB</tspan></text></g>
<g id="b0891"><circle cx="732" cy="758" r="18.5" class="M"/><text x="732" y="758">AM1_0891<tspan x="732" dy="8">atpB</tspan></text></g>
<g id="bD0165"><circle cx="680" cy="713" r="18.5" class="S2"/><text x="680" y="713">AM1_D0165<tspan x="680" dy="8">atpA</tspan></text></g>
<g id="b0896"><circle cx="722" cy="701" r="18.5" class="M"/><text x="722" y="701">AM1_0896<tspan x="722" dy="8">atpA</tspan></text></g>
<g id="b4619"><circle cx="780" cy="695" r="18.5" class="L"/><text x="780" y="695">AM1_4619<tspan x="780" dy="8">ctaE</tspan></text></g>
<g id="b5378"><circle cx="781" cy="824" r="18.5" class="M"/><text x="781" y="824">AM1_5378<tspan x="781" dy="8">ndhM</tspan></text></g>
<g id="b2497"><circle cx="765" cy="861" r="18.5" class="P"/><text x="765" y="861">AM1_2497<tspan x="765" dy="8">ndhM</tspan></text></g>
<g id="b6407"><circle cx="757" cy="898" r="18.5" class="G"/><text x="757" y="898">AM1_6407</text></g>
<g id="brb"><circle cx="802" cy="876" r="18.5" class="Lg"/></g>
<g id="bbm"><circle cx="563" cy="912" r="18.5" class="W"/></g>
</g>
<text class="pl" x="10" y="470">B</text>
</g>
<rect class="fr" x="2" y="445" width="793" height="457"/>
</svg>
